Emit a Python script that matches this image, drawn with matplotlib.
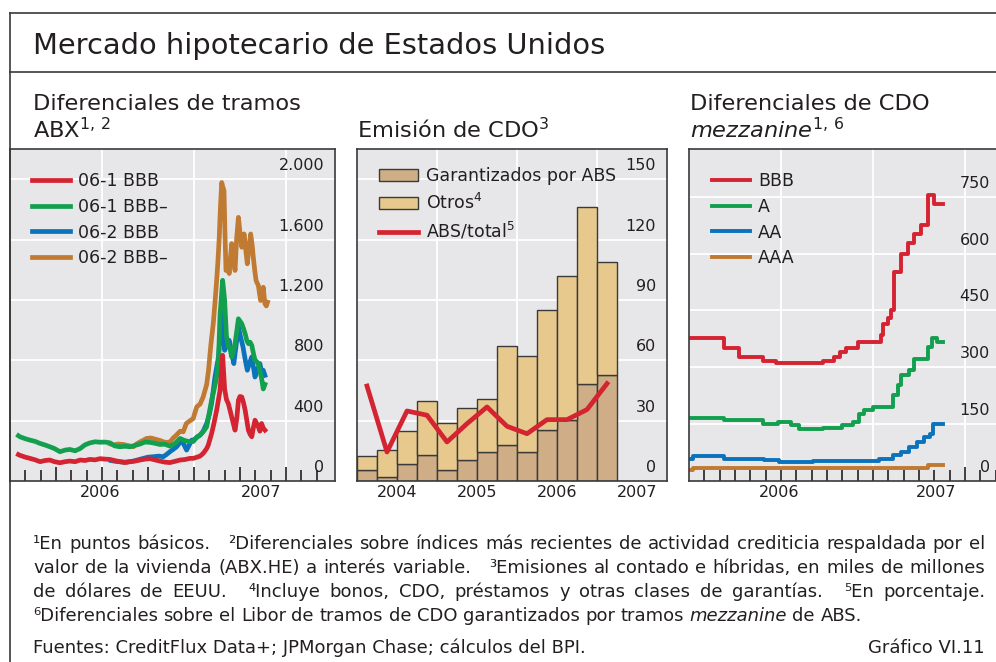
import numpy as np
import matplotlib
matplotlib.use("Agg")
import matplotlib.pyplot as plt
import matplotlib.transforms as mtransforms
from matplotlib.lines import Line2D

W, H = 996, 662
plt.rcParams["font.family"] = ["DejaVu Sans"]
plt.rcParams["mathtext.fontset"] = "dejavusans"

INK = "#231f20"
BG = "#e7e7e9"
FRAME = "#3a3a3a"
RED, GREEN, BLUE, BROWN = "#d42331", "#12a04f", "#0b73bb", "#c07a32"

# ABX spreads (bp), x = months since 1 Jan 2006
red_m = [0.55, 0.65, 1.0, 1.3, 1.65, 1.96, 2.3, 2.6, 2.9, 3.26, 3.6, 3.9, 4.25, 4.57, 4.9, 5.2, 5.55, 5.87,
         6.2, 6.52, 6.85, 7.17, 7.5, 7.83, 8.15, 8.48, 8.8, 9.13, 9.45, 9.78, 10.1, 10.43, 10.75, 11.09, 11.4,
         11.74, 11.96, 12.2, 12.4, 12.6, 12.83, 12.94, 13.15, 13.3, 13.48, 13.6, 13.7, 13.87, 14.0, 14.12,
         14.24, 14.35, 14.46, 14.57, 14.68, 14.8, 14.9, 15.0, 15.12, 15.23, 15.34, 15.45, 15.55, 15.66, 15.77,
         15.87, 15.98, 16.1, 16.2, 16.3, 16.41, 16.52, 16.63]
abx061_bbb = [175, 170, 158, 150, 140, 128, 136, 139, 128, 121, 128, 132, 128, 139, 136, 143, 140, 148,
              145, 143, 135, 128, 122, 128, 132, 139, 145, 148, 140, 132, 125, 122, 130, 139, 142,
              150, 150, 158, 165, 183, 215, 240, 315, 380, 469, 540, 601, 833, 610, 540,
              513, 470, 425, 380, 337, 420, 535, 560, 557, 520, 469, 400, 337, 310, 293,
              350, 403, 380, 359, 330, 381, 350, 337]
abx061_bbbm = [300, 293, 280, 271, 262, 249, 238, 227, 215, 194, 205, 209, 200, 215, 240, 252, 260, 257,
               258, 253, 232, 227, 230, 227, 236, 245, 258, 256, 250, 242, 244, 231, 247, 282, 268,
               260, 262, 293, 304, 326, 359, 420, 535, 600, 689, 800, 1100, 1330, 1200, 960,
               895, 880, 822, 860, 910, 1000, 1075, 1060, 1042, 1010, 976, 930, 910, 920, 899,
               850, 800, 790, 778, 730, 680, 610, 640]
blue_m = [6.6, 6.9, 7.2, 7.5, 7.8, 8.1, 8.4, 8.7, 9.0, 9.35, 9.7, 10.0, 10.2, 10.43, 10.65, 10.87, 11.05,
          11.2, 11.35, 11.52, 11.7, 11.85, 12.0, 12.2, 12.4, 12.6, 12.83, 13.0, 13.15, 13.37, 13.6, 13.7,
          13.81, 13.9, 14.0, 14.15, 14.3, 14.45, 14.6, 14.75, 14.9, 15.05, 15.2, 15.35, 15.48, 15.62, 15.77,
          15.87, 15.98, 16.15, 16.3, 16.42, 16.52, 16.63]
abx062_bbb = [135, 130, 127, 125, 128, 133, 142, 150, 158, 161, 165, 161, 175, 194, 210, 227, 250,
              271, 240, 205, 240, 271, 272, 290, 304, 330, 381, 440, 513, 689, 822, 950,
              1130, 1000, 866, 900, 932, 850, 778, 900, 1020, 950, 888, 800, 734, 780, 822,
              760, 689, 740, 778, 720, 734, 700]
brown_m = [6.55, 6.75, 7.05, 7.4, 7.7, 8.05, 8.25, 8.5, 8.7, 8.9, 9.2, 9.55, 9.8, 10.0, 10.2, 10.45, 10.65,
           10.85, 11.1, 11.3, 11.5, 11.75, 11.95, 12.18, 12.4, 12.6, 12.83, 12.95, 13.1, 13.26, 13.37, 13.48,
           13.56, 13.65, 13.72, 13.81, 13.88, 13.96, 14.02, 14.09, 14.2, 14.3, 14.38, 14.46, 14.57, 14.68,
           14.78, 14.9, 15.0, 15.12, 15.2, 15.27, 15.38, 15.48, 15.6, 15.7, 15.8, 15.87, 15.96, 16.05, 16.13,
           16.2, 16.28, 16.35, 16.45, 16.52, 16.58, 16.63, 16.72, 16.8]
abx062_bbbm = [245, 238, 245, 242, 235, 227, 245, 260, 270, 282, 285, 275, 268, 260, 255, 260, 285,
               304, 330, 326, 381, 400, 414, 491, 510, 557, 640, 734, 900, 1044, 1180, 1329,
               1450, 1615, 1800, 1978, 1950, 1923, 1650, 1395, 1420, 1375, 1480, 1573, 1480, 1395,
               1600, 1747, 1650, 1549, 1600, 1637, 1530, 1439, 1560, 1637, 1560, 1483, 1400, 1329, 1310,
               1296, 1240, 1196, 1240, 1284, 1220, 1175, 1160, 1185]

# CDO issuance, quarterly 2004Q1-2007Q1 (USD bn) and ABS share (%)
quarters = ["2004T1", "2004T2", "2004T3", "2004T4", "2005T1", "2005T2", "2005T3", "2005T4",
            "2006T1", "2006T2", "2006T3", "2006T4", "2007T1"]
cdo_total = [12.4, 15.2, 24.9, 39.8, 28.8, 36.3, 40.9, 67.1, 62.0, 84.9, 101.8, 136.2, 108.6]
cdo_abs = [5.6, 2.0, 8.6, 12.8, 5.3, 10.3, 14.4, 18.1, 14.4, 25.5, 30.5, 48.1, 52.5]
abs_share = [47.2, 14.4, 34.8, 32.7, 19.4, 28.5, 36.8, 27.2, 23.5, 30.5, 30.5, 35.5, 48.4]

# mezzanine CDO spreads (bp), step series, x = months since 1 Jan 2006
bbb_m = [0.0, 2.26, 3.28, 4.8, 5.67, 8.72, 9.48, 9.85, 10.24, 11.0, 12.52, 12.67, 12.96, 13.17, 13.35,
         13.83, 14.26, 14.7, 15.13, 15.57, 16.0, 16.54]
mezz_bbb = [376, 352, 327, 317, 312, 317, 327, 341, 352, 367, 385, 415, 429, 451, 552,
            600, 627, 653, 675, 754, 732, 732]
a_m = [0.0, 2.3, 4.8, 5.78, 6.65, 7.2, 8.72, 10.0, 10.67, 11.1, 11.43, 11.98, 13.28, 13.6, 13.83,
       14.37, 14.7, 15.57, 15.85, 16.15, 16.54]
mezz_a = [166, 160, 151, 156, 147, 136, 141, 147, 156, 178, 187, 195, 226, 253, 279,
          292, 323, 354, 376, 367, 367]
aa_m = [0.0, 0.24, 2.3, 4.9, 5.9, 8.07, 12.4, 13.28, 13.83, 14.37, 14.9, 15.35, 15.7, 15.9, 16.54]
mezz_aa = [59, 65, 59, 55, 50, 53, 59, 68, 77, 90, 103, 116, 125, 150, 150]
aaa_m = [0.0, 0.24, 13.7, 15.57, 16.54]
mezz_aaa = [28, 33, 35, 41, 41]

abx_ticks = [0, 400, 800, 1200, 1600, 2000]
abx_labels = ["0", "400", "800", "1.200", "1.600", "2.000"]
cdo_ticks = [0, 30, 60, 90, 120, 150]
mezz_ticks = [0, 150, 300, 450, 600, 750]
years_monthly = ["2006", "2007"]
years_quarterly = ["2004", "2005", "2006", "2007"]

FOOTNOTES = [
    ["¹En puntos básicos.",
     "²Diferenciales sobre índices más recientes de actividad crediticia respaldada por el"],
    ["valor de la vivienda (ABX.HE) a interés variable.",
     "³Emisiones al contado e híbridas, en miles de millones"],
    ["de dólares de EEUU.", "⁴Incluye bonos, CDO, préstamos y otras clases de garantías.",
     "⁵En porcentaje."],
    ["⁶Diferenciales sobre el Libor de tramos de CDO garantizados por tramos *mezzanine* de ABS."],
]

fig = plt.figure(figsize=(W / 100, H / 100), dpi=100)


def px_axes(x0, y0, x1, y1):
    return fig.add_axes([x0 / W, 1 - y1 / H, (x1 - x0) / W, (y1 - y0) / H])


def style_panel(ax, xlim, ylim, ticks, labels, vgrid):
    ax.set_facecolor(BG)
    ax.set_xlim(*xlim)
    ax.set_ylim(*ylim)
    for s in ax.spines.values():
        s.set_color(FRAME)
        s.set_linewidth(1.2)
    for v in ticks[1:]:
        ax.axhline(v, color="white", lw=1.3, zorder=0.5)
    for v in vgrid:
        ax.axvline(v, color="white", lw=1.3, zorder=0.5)
    ax.set_yticks([])
    off = mtransforms.offset_copy(ax.get_yaxis_transform(), fig=fig, x=-11, y=9, units="dots")
    for v, lab in zip(ticks, labels):
        ax.text(1, v, lab, transform=off, ha="right", va="baseline", fontsize=11.5, color=INK)


def year_labels(ax, pos, names):
    sec = ax.secondary_xaxis("bottom")
    sec.set_xticks(pos, names)
    sec.tick_params(length=0, pad=3, labelsize=11.5, labelcolor=INK)
    sec.spines["bottom"].set_visible(False)


def month_ticks(ax):
    ax.set_xticks(np.arange(3, 21, 3))
    ax.set_xticks(np.arange(1, 21), minor=True)
    ax.tick_params(axis="x", which="major", direction="in", length=10, width=1.2, color=INK,
                   labelbottom=False)
    ax.tick_params(axis="x", which="minor", direction="in", length=7.7, width=1.2, color=INK)


leg_kw = dict(loc="upper left", frameon=False, fontsize=12.5, labelcolor=INK, borderpad=0,
              borderaxespad=0, handlelength=2.2, handletextpad=0.45, labelspacing=0.45)

# ---- left: ABX
ax1 = px_axes(10, 149, 335, 481)
style_panel(ax1, (0, 21.2), (0, 2200), abx_ticks, abx_labels, [6, 12, 18])
month_ticks(ax1)
year_labels(ax1, [5.9, 16.4], years_monthly)
lw = 3.4
l4, = ax1.plot(brown_m, abx062_bbbm, color=BROWN, lw=lw)
l3, = ax1.plot(blue_m, abx062_bbb, color=BLUE, lw=lw)
l2, = ax1.plot(red_m, abx061_bbbm, color=GREEN, lw=lw)
l1, = ax1.plot(red_m, abx061_bbb, color=RED, lw=lw)
ax1.legend([l1, l2, l3, l4], ["06-1 BBB", "06-1 BBB–", "06-2 BBB", "06-2 BBB–"],
           bbox_to_anchor=(0.068, 0.931), **leg_kw)

# ---- middle: CDO issuance
ax2 = px_axes(357, 149, 667, 481)
style_panel(ax2, (0, 15.5), (0, 165), cdo_ticks, [str(t) for t in cdo_ticks], [4, 8, 12])
ax2.set_xticks([2, 6, 10, 14], years_quarterly)
ax2.tick_params(axis="x", length=0, pad=3, labelsize=11.5, labelcolor=INK)
xq = np.arange(len(quarters)) + 0.5
cdo_other = np.array(cdo_total) - np.array(cdo_abs)
b1 = ax2.bar(xq, cdo_abs, width=1, color="#cfad87", edgecolor=FRAME, lw=1.0, zorder=1)
b2 = ax2.bar(xq, cdo_other, bottom=cdo_abs, width=1, color="#e7c98d", edgecolor=FRAME, lw=1.0, zorder=1)
l5, = ax2.plot(xq, abs_share, color=RED, lw=3.4, zorder=3)
ax2.legend([b1, b2, l5], ["Garantizados por ABS", "Otros$^{4}$", "ABS/total$^{5}$"],
           bbox_to_anchor=(0.071, 0.946), **{**leg_kw, "handlelength": 2.25})

# ---- right: mezzanine CDO
ax3 = px_axes(689, 149, 1001, 481)
style_panel(ax3, (0, 20.35), (0, 876), mezz_ticks, [str(t) for t in mezz_ticks], [6, 12, 18])
month_ticks(ax3)
year_labels(ax3, [5.9, 16.1], years_monthly)
s4, = ax3.step(aaa_m, mezz_aaa, where="post", color=BROWN, lw=2.8)
s3, = ax3.step(aa_m, mezz_aa, where="post", color=BLUE, lw=2.8)
s2, = ax3.step(a_m, mezz_a, where="post", color=GREEN, lw=2.8)
s1, = ax3.step(bbb_m, mezz_bbb, where="post", color=RED, lw=2.8)
ax3.legend([s1, s2, s3, s4], ["BBB", "A", "AA", "AAA"], bbox_to_anchor=(0.074, 0.931), **leg_kw)

# ---- frame and texts
for xs, ys in [([10, W], [12.5, 12.5]), ([10, W], [72, 72]), ([10, 10], [12.5, H])]:
    fig.add_artist(Line2D([x / W for x in xs], [1 - y / H for y in ys], color=FRAME, lw=1.2))

fig.text(33 / W, 1 - 53.5 / H, "Mercado hipotecario de Estados Unidos", fontsize=20.8, color=INK,
         va="baseline")
sub = dict(fontsize=16.2, color=INK, va="baseline")
fig.text(33 / W, 1 - 110 / H, "Diferenciales de tramos", **sub)
fig.text(33 / W, 1 - 138 / H, "ABX$^{1,\\,2}$", **sub)
fig.text(357 / W, 1 - 138 / H, "Emisión de CDO$^{3}$", **sub)
fig.text(690 / W, 1 - 110 / H, "Diferenciales de CDO", **sub)
fig.text(690 / W, 1 - 138 / H, "$\\mathit{mezzanine}^{1,\\,6}$", **sub)

# justified footnotes
FOOT_SIZE = 13.0
X_LEFT, X_RIGHT = 33, 985
SEG_EXTRA = 12
foot_base = [549, 573, 597, 621]
foot_just = [True, True, True, False]
renderer = fig.canvas.get_renderer()
for line, yb, just in zip(FOOTNOTES, foot_base, foot_just):
    items = []
    for si, seg in enumerate(line):
        for wi, word in enumerate(seg.split(" ")):
            italic = word.startswith("*")
            t = fig.text(0, 1 - yb / H, word.replace("*", ""), fontsize=FOOT_SIZE, color=INK,
                         va="baseline", style="italic" if italic else "normal")
            items.append((t, t.get_window_extent(renderer).width, si > 0 and wi == 0))
    n_seg = sum(1 for it in items if it[2])
    words_w = sum(it[1] for it in items)
    gap = (X_RIGHT - X_LEFT - words_w - n_seg * SEG_EXTRA) / (len(items) - 1) if just else 5.5
    x = X_LEFT
    for i, (t, w, seg_start) in enumerate(items):
        if i > 0:
            x += gap + (SEG_EXTRA if seg_start else 0)
        t.set_x(x / W)
        x += w

fig.text(33 / W, 1 - 653 / H, "Fuentes: CreditFlux Data+; JPMorgan Chase; cálculos del BPI.",
         fontsize=FOOT_SIZE, color=INK, va="baseline")
fig.text(985 / W, 1 - 653 / H, "Gráfico VI.11", fontsize=FOOT_SIZE, color=INK, va="baseline", ha="right")

fig.savefig("out.png", dpi=100)
plt.close(fig)
